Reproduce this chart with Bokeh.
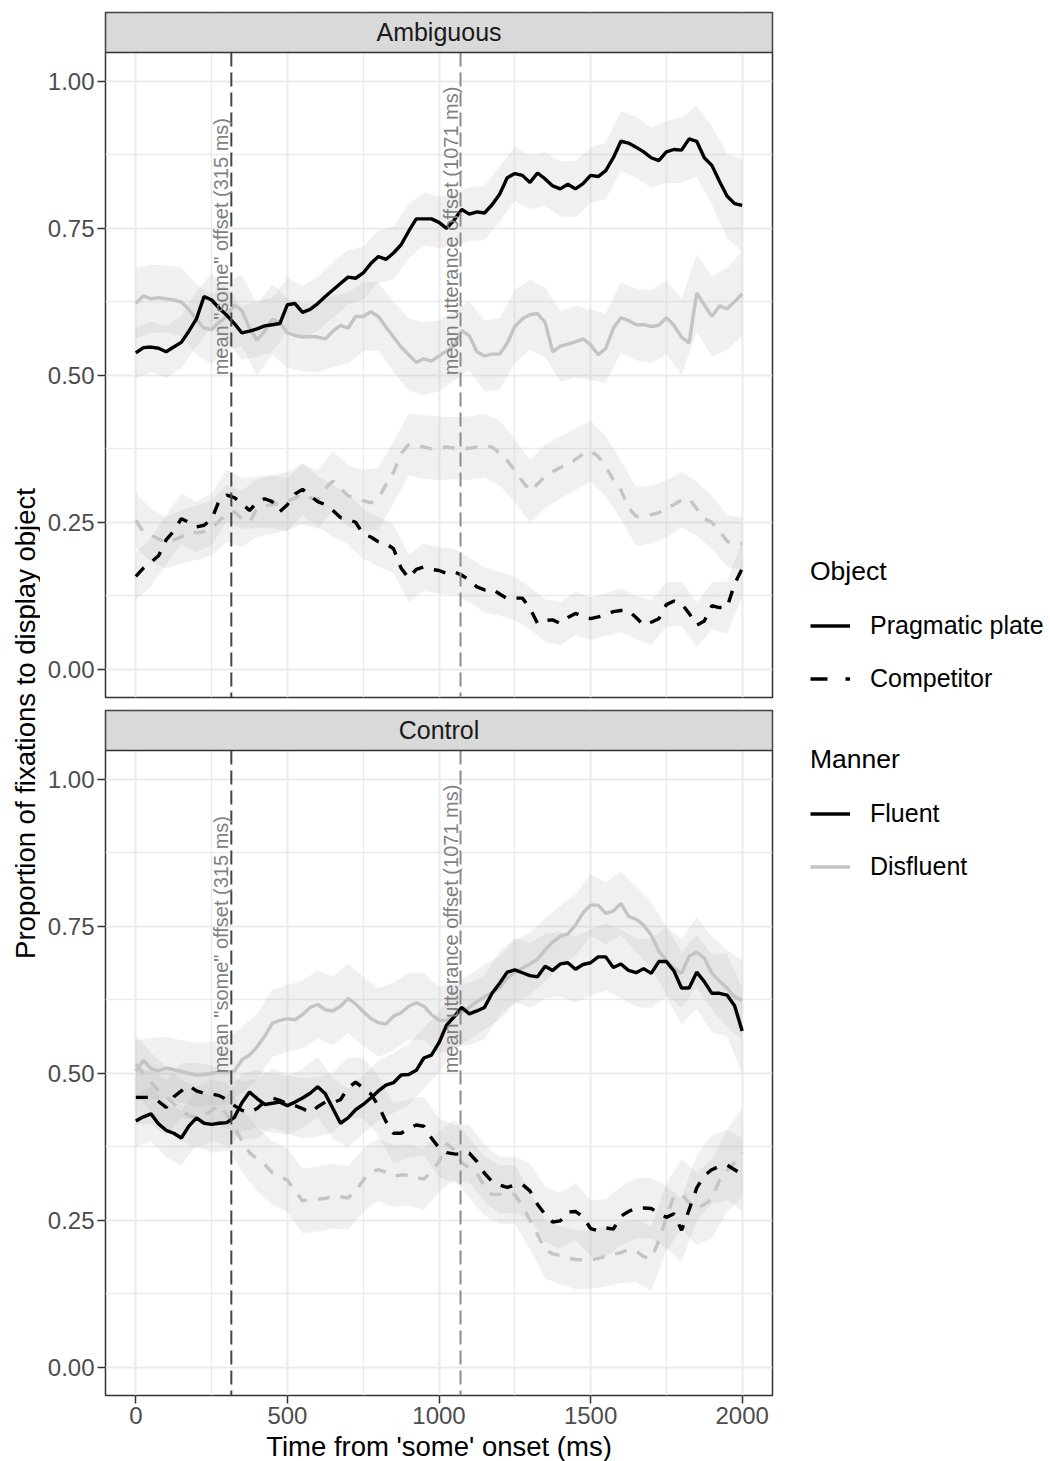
import math
from bokeh.plotting import figure
from bokeh.models import (Range1d, FixedTicker, BoxAnnotation, Label, Span,
                          Legend, LegendItem, NumeralTickFormatter)
from bokeh.layouts import row, column
from bokeh.embed import file_html
from bokeh.resources import INLINE

# ---------------- data ----------------
time_ms = list(range(0, 2001, 25))
ribbon_time_ms = time_ms[::2]

# Ambiguous
amb_prag_fluent = [0.538, 0.547, 0.548, 0.546, 0.540, 0.548, 0.556, 0.575, 0.596, 0.634,
                   0.628, 0.614, 0.602, 0.588, 0.572, 0.575, 0.579, 0.584, 0.586, 0.588,
                   0.620, 0.622, 0.607, 0.612, 0.622, 0.634, 0.645, 0.656, 0.667, 0.665,
                   0.674, 0.690, 0.702, 0.697, 0.708, 0.722, 0.745, 0.766, 0.766, 0.766,
                   0.760, 0.750, 0.764, 0.782, 0.774, 0.778, 0.776, 0.790, 0.808, 0.836,
                   0.843, 0.840, 0.828, 0.844, 0.834, 0.822, 0.817, 0.825, 0.817, 0.826,
                   0.840, 0.838, 0.848, 0.870, 0.898, 0.895, 0.888, 0.880, 0.870, 0.865,
                   0.880, 0.884, 0.883, 0.902, 0.898, 0.870, 0.857, 0.830, 0.805, 0.792,
                   0.789]
amb_prag_disfluent = [0.622, 0.635, 0.630, 0.632, 0.630, 0.628, 0.625, 0.612, 0.595, 0.580,
                      0.578, 0.590, 0.600, 0.620, 0.610, 0.580, 0.560, 0.575, 0.595, 0.590,
                      0.572, 0.568, 0.565, 0.566, 0.565, 0.562, 0.575, 0.585, 0.580, 0.600,
                      0.600, 0.608, 0.600, 0.582, 0.565, 0.548, 0.535, 0.522, 0.528, 0.524,
                      0.533, 0.541, 0.550, 0.576, 0.567, 0.540, 0.533, 0.536, 0.536, 0.555,
                      0.583, 0.596, 0.603, 0.605, 0.590, 0.540, 0.549, 0.553, 0.557, 0.562,
                      0.552, 0.535, 0.546, 0.580, 0.598, 0.593, 0.586, 0.586, 0.583, 0.585,
                      0.598, 0.585, 0.565, 0.555, 0.640, 0.620, 0.600, 0.618, 0.613, 0.625,
                      0.639]
amb_comp_fluent = [0.158, 0.172, 0.182, 0.193, 0.220, 0.235, 0.256, 0.250, 0.242, 0.245,
                   0.255, 0.287, 0.296, 0.292, 0.282, 0.270, 0.284, 0.290, 0.285, 0.268,
                   0.280, 0.298, 0.306, 0.295, 0.285, 0.280, 0.270, 0.258, 0.255, 0.250,
                   0.230, 0.225, 0.217, 0.214, 0.205, 0.172, 0.155, 0.170, 0.174, 0.170,
                   0.168, 0.163, 0.166, 0.160, 0.152, 0.140, 0.135, 0.137, 0.128, 0.120,
                   0.121, 0.121, 0.104, 0.078, 0.083, 0.084, 0.078, 0.088, 0.095, 0.090,
                   0.086, 0.089, 0.093, 0.098, 0.100, 0.100, 0.088, 0.075, 0.080, 0.086,
                   0.110, 0.116, 0.112, 0.095, 0.075, 0.082, 0.108, 0.105, 0.105, 0.145,
                   0.171]
amb_comp_disfluent = [0.253, 0.234, 0.228, 0.222, 0.215, 0.220, 0.225, 0.234, 0.232, 0.234,
                      0.240, 0.252, 0.265, 0.268, 0.256, 0.250, 0.274, 0.278, 0.280, 0.282,
                      0.286, 0.291, 0.298, 0.292, 0.288, 0.308, 0.320, 0.308, 0.295, 0.292,
                      0.287, 0.283, 0.290, 0.314, 0.335, 0.367, 0.382, 0.382, 0.378, 0.375,
                      0.376, 0.378, 0.376, 0.375, 0.376, 0.378, 0.380, 0.378, 0.368, 0.355,
                      0.338, 0.320, 0.303, 0.315, 0.328, 0.336, 0.343, 0.348, 0.357, 0.366,
                      0.371, 0.362, 0.345, 0.322, 0.305, 0.275, 0.260, 0.261, 0.263, 0.266,
                      0.273, 0.280, 0.288, 0.290, 0.273, 0.256, 0.250, 0.235, 0.218, 0.212,
                      0.214]

# Control
ctl_prag_fluent = [0.419, 0.426, 0.431, 0.414, 0.403, 0.398, 0.390, 0.410, 0.424, 0.415,
                   0.413, 0.415, 0.416, 0.425, 0.450, 0.468, 0.457, 0.447, 0.449, 0.451,
                   0.445, 0.451, 0.458, 0.466, 0.477, 0.465, 0.440, 0.415, 0.424, 0.438,
                   0.447, 0.458, 0.470, 0.480, 0.484, 0.497, 0.498, 0.505, 0.526, 0.531,
                   0.552, 0.582, 0.596, 0.612, 0.601, 0.606, 0.612, 0.636, 0.653, 0.672,
                   0.676, 0.671, 0.666, 0.664, 0.682, 0.675, 0.686, 0.688, 0.677, 0.685,
                   0.688, 0.698, 0.698, 0.680, 0.686, 0.675, 0.671, 0.678, 0.670, 0.690,
                   0.690, 0.674, 0.645, 0.645, 0.672, 0.656, 0.636, 0.636, 0.633, 0.615,
                   0.572]
ctl_prag_disfluent = [0.504, 0.522, 0.508, 0.504, 0.509, 0.506, 0.503, 0.500, 0.497, 0.498,
                      0.500, 0.502, 0.502, 0.504, 0.523, 0.531, 0.545, 0.563, 0.585, 0.590,
                      0.593, 0.591, 0.600, 0.612, 0.617, 0.608, 0.606, 0.614, 0.627, 0.618,
                      0.605, 0.593, 0.586, 0.584, 0.597, 0.603, 0.614, 0.620, 0.614, 0.600,
                      0.590, 0.590, 0.598, 0.604, 0.612, 0.622, 0.630, 0.637, 0.645, 0.662,
                      0.672, 0.679, 0.686, 0.694, 0.710, 0.723, 0.733, 0.737, 0.752, 0.773,
                      0.786, 0.786, 0.772, 0.776, 0.789, 0.767, 0.762, 0.752, 0.735, 0.708,
                      0.692, 0.678, 0.670, 0.699, 0.706, 0.696, 0.670, 0.657, 0.645, 0.630,
                      0.624]
ctl_comp_fluent = [0.459, 0.459, 0.459, 0.452, 0.442, 0.460, 0.470, 0.479, 0.470, 0.466,
                   0.465, 0.462, 0.455, 0.445, 0.437, 0.434, 0.440, 0.452, 0.458, 0.454,
                   0.448, 0.445, 0.440, 0.433, 0.443, 0.451, 0.450, 0.455, 0.475, 0.485,
                   0.475, 0.465, 0.445, 0.418, 0.398, 0.398, 0.406, 0.412, 0.410, 0.390,
                   0.373, 0.365, 0.363, 0.362, 0.364, 0.350, 0.330, 0.316, 0.310, 0.306,
                   0.310, 0.311, 0.300, 0.277, 0.260, 0.247, 0.249, 0.264, 0.265, 0.256,
                   0.236, 0.232, 0.237, 0.235, 0.257, 0.265, 0.271, 0.271, 0.270, 0.262,
                   0.255, 0.261, 0.233, 0.268, 0.305, 0.326, 0.336, 0.342, 0.344, 0.336,
                   0.328]
ctl_comp_disfluent = [0.515, 0.500, 0.485, 0.470, 0.460, 0.448, 0.437, 0.428, 0.425, 0.428,
                      0.437, 0.446, 0.430, 0.408, 0.385, 0.365, 0.354, 0.345, 0.331, 0.325,
                      0.318, 0.300, 0.283, 0.286, 0.286, 0.287, 0.291, 0.290, 0.288, 0.300,
                      0.318, 0.332, 0.336, 0.332, 0.325, 0.327, 0.327, 0.323, 0.320, 0.333,
                      0.350, 0.380, 0.370, 0.348, 0.339, 0.330, 0.308, 0.294, 0.294, 0.294,
                      0.294, 0.275, 0.250, 0.226, 0.200, 0.193, 0.190, 0.186, 0.183, 0.183,
                      0.183, 0.185, 0.189, 0.192, 0.195, 0.200, 0.198, 0.188, 0.185, 0.215,
                      0.255, 0.291, 0.294, 0.280, 0.270, 0.277, 0.286, 0.318, 0.334, 0.348,
                      0.365]

# ribbon half-widths, every 50 ms
amb_prag_fluent_se = [0.042, 0.043, 0.044, 0.045, 0.046, 0.046, 0.045, 0.046, 0.047, 0.046,
                      0.046, 0.045, 0.046, 0.047, 0.046, 0.045, 0.044, 0.045, 0.046, 0.045,
                      0.044, 0.045, 0.046, 0.046, 0.047, 0.046, 0.045, 0.046, 0.047, 0.048,
                      0.047, 0.048, 0.050, 0.052, 0.051, 0.053, 0.056, 0.060, 0.066, 0.072,
                      0.078]
amb_prag_disfluent_se = [0.060, 0.058, 0.057, 0.058, 0.060, 0.059, 0.058, 0.060, 0.061, 0.060,
                         0.059, 0.058, 0.060, 0.061, 0.060, 0.059, 0.058, 0.060, 0.061, 0.062,
                         0.060, 0.059, 0.058, 0.060, 0.061, 0.062, 0.060, 0.059, 0.060, 0.061,
                         0.060, 0.059, 0.060, 0.061, 0.062, 0.063, 0.064, 0.066, 0.068, 0.070,
                         0.072]
amb_comp_fluent_se = [0.040, 0.041, 0.042, 0.043, 0.043, 0.044, 0.044, 0.043, 0.044, 0.045,
                      0.045, 0.044, 0.043, 0.044, 0.043, 0.042, 0.042, 0.041, 0.040, 0.040,
                      0.040, 0.039, 0.038, 0.038, 0.037, 0.037, 0.036, 0.036, 0.037, 0.037,
                      0.036, 0.036, 0.037, 0.037, 0.038, 0.038, 0.037, 0.038, 0.040, 0.044,
                      0.048]
amb_comp_disfluent_se = [0.046, 0.045, 0.044, 0.045, 0.046, 0.047, 0.048, 0.048, 0.049, 0.050,
                         0.050, 0.051, 0.050, 0.051, 0.052, 0.052, 0.053, 0.052, 0.053, 0.054,
                         0.054, 0.053, 0.054, 0.054, 0.055, 0.054, 0.053, 0.054, 0.053, 0.052,
                         0.052, 0.051, 0.050, 0.050, 0.049, 0.048, 0.047, 0.046, 0.045, 0.044,
                         0.044]
ctl_prag_fluent_se = [0.045, 0.046, 0.046, 0.047, 0.047, 0.048, 0.048, 0.049, 0.049, 0.050,
                      0.050, 0.050, 0.051, 0.051, 0.050, 0.050, 0.051, 0.051, 0.052, 0.052,
                      0.052, 0.053, 0.053, 0.054, 0.054, 0.054, 0.055, 0.055, 0.055, 0.056,
                      0.056, 0.057, 0.058, 0.058, 0.059, 0.060, 0.061, 0.063, 0.066, 0.070,
                      0.074]
ctl_prag_disfluent_se = [0.052, 0.052, 0.053, 0.053, 0.054, 0.054, 0.055, 0.056, 0.056, 0.057,
                         0.057, 0.058, 0.058, 0.058, 0.059, 0.059, 0.058, 0.058, 0.057, 0.057,
                         0.056, 0.056, 0.055, 0.055, 0.054, 0.054, 0.053, 0.053, 0.052, 0.052,
                         0.052, 0.053, 0.054, 0.055, 0.056, 0.057, 0.058, 0.060, 0.062, 0.065,
                         0.068]
ctl_comp_fluent_se = [0.046, 0.046, 0.047, 0.047, 0.048, 0.048, 0.049, 0.049, 0.050, 0.050,
                      0.050, 0.051, 0.051, 0.051, 0.052, 0.052, 0.051, 0.051, 0.050, 0.050,
                      0.050, 0.049, 0.049, 0.048, 0.048, 0.048, 0.047, 0.047, 0.047, 0.048,
                      0.048, 0.049, 0.050, 0.051, 0.052, 0.053, 0.054, 0.056, 0.058, 0.060,
                      0.062]
ctl_comp_disfluent_se = [0.050, 0.050, 0.051, 0.051, 0.052, 0.052, 0.053, 0.053, 0.054, 0.054,
                         0.054, 0.055, 0.055, 0.055, 0.054, 0.054, 0.053, 0.053, 0.052, 0.052,
                         0.052, 0.051, 0.051, 0.050, 0.050, 0.050, 0.049, 0.049, 0.049, 0.050,
                         0.050, 0.051, 0.052, 0.053, 0.055, 0.057, 0.059, 0.062, 0.066, 0.070,
                         0.075]

panels = ["Ambiguous", "Control"]
object_labels = ["Pragmatic plate", "Competitor"]
manner_labels = ["Fluent", "Disfluent"]
x_major = [0, 500, 1000, 1500, 2000]
x_minor = [250, 750, 1250, 1750]
y_major = [0, 0.25, 0.5, 0.75, 1.0]
y_minor = [0.125, 0.375, 0.625, 0.875]
offsets = [(315, 'mean "some" offset (315 ms)'), (1071, "mean utterance offset (1071 ms)")]

for arr in [amb_prag_fluent, amb_prag_disfluent, amb_comp_fluent, amb_comp_disfluent,
            ctl_prag_fluent, ctl_prag_disfluent, ctl_comp_fluent, ctl_comp_disfluent]:
    assert len(arr) == len(time_ms), len(arr)

# ---------------- style ----------------
FONT = "Liberation Sans"
FLUENT = "#000000"
DISFLUENT = "#C4C4C4"
RIBBON = "#B3B3B3"
BORDER = "#333333"
GRID = "#EBEBEB"
DASH = "12 11"
LW = 3.4

def make_panel(name, series, show_x, top_border, bottom_border):
    p = figure(frame_width=667, frame_height=685,
               x_range=Range1d(-100, 2100), y_range=Range1d(-0.048, 1.117),
               output_backend="svg", toolbar_location=None,
               min_border_left=65, min_border_right=8,
               min_border_top=top_border, min_border_bottom=bottom_border)
    p.background_fill_color = "white"
    p.border_fill_color = "white"
    p.outline_line_color = BORDER
    p.outline_line_width = 1.5

    p.xgrid.ticker = FixedTicker(ticks=x_major, minor_ticks=x_minor)
    p.ygrid.ticker = FixedTicker(ticks=y_major, minor_ticks=y_minor)
    for g in (p.xgrid, p.ygrid):
        g.grid_line_color = GRID
        g.grid_line_width = 2
        g.minor_grid_line_color = GRID
        g.minor_grid_line_width = 1.3

    p.yaxis.ticker = FixedTicker(ticks=y_major)
    p.yaxis.formatter = NumeralTickFormatter(format="0.00")
    p.xaxis.ticker = FixedTicker(ticks=x_major)
    for ax in (p.xaxis, p.yaxis):
        ax.axis_line_color = None
        ax.major_tick_line_color = BORDER
        ax.major_tick_line_width = 1.5
        ax.major_tick_out = 8
        ax.major_tick_in = 0
        ax.minor_tick_line_color = None
        ax.major_label_text_font = FONT
        ax.major_label_text_font_size = "24px"
        ax.major_label_text_color = "#4D4D4D"
        ax.major_label_standoff = 3
    if show_x:
        p.xaxis.axis_label = "Time from 'some' onset (ms)"
        p.xaxis.axis_label_text_font = FONT
        p.xaxis.axis_label_text_font_size = "27.5px"
        p.xaxis.axis_label_text_font_style = "normal"
        p.xaxis.axis_label_text_color = "#000000"
        p.xaxis.axis_label_standoff = 4
    else:
        p.xaxis.visible = False

    # ribbons first, then lines (disfluent under fluent)
    for mean, se, color, dash in series:
        sub = mean[::2]
        lo = [m - s for m, s in zip(sub, se)]
        hi = [m + s for m, s in zip(sub, se)]
        p.varea(x=ribbon_time_ms, y1=lo, y2=hi, fill_color=RIBBON, fill_alpha=0.2)
    for mean, se, color, dash in series:
        p.line(time_ms, mean, line_color=color, line_width=LW, line_dash=dash)

    span_colors = ["#444444", "#8C8C8C"]
    for (loc, txt), col in zip(offsets, span_colors):
        p.add_layout(Span(location=loc, dimension="height", line_color=col,
                          line_width=2, line_dash="14 6"))
        p.add_layout(Label(x=loc, y=0.5, text=txt, angle=math.pi / 2,
                           text_align="left", text_baseline="bottom",
                           x_offset=1, text_color="#7F7F7F",
                           text_font_size="20px", text_font=FONT))

    # facet strip
    p.add_layout(BoxAnnotation(bottom=1.049, fill_color="#D9D9D9", fill_alpha=1,
                               line_color=BORDER, line_alpha=1, line_width=1.5))
    p.add_layout(Label(x=1000, y=1.083, text=name, text_align="center",
                       text_baseline="middle", text_font_size="25px",
                       text_font=FONT, text_color="#1A1A1A"))
    return p

amb_series = [
    (amb_prag_disfluent, amb_prag_disfluent_se, DISFLUENT, "solid"),
    (amb_comp_disfluent, amb_comp_disfluent_se, DISFLUENT, DASH),
    (amb_prag_fluent, amb_prag_fluent_se, FLUENT, "solid"),
    (amb_comp_fluent, amb_comp_fluent_se, FLUENT, DASH),
]
ctl_series = [
    (ctl_prag_disfluent, ctl_prag_disfluent_se, DISFLUENT, "solid"),
    (ctl_comp_disfluent, ctl_comp_disfluent_se, DISFLUENT, DASH),
    (ctl_prag_fluent, ctl_prag_fluent_se, FLUENT, "solid"),
    (ctl_comp_fluent, ctl_comp_fluent_se, FLUENT, DASH),
]

top = make_panel(panels[0], amb_series, False, 12, 6)
bot = make_panel(panels[1], ctl_series, True, 7, 40)

H = 1461
# shared y-axis title
yt = figure(width=40, height=H, x_range=Range1d(0, 40), y_range=Range1d(0, H),
            x_axis_type=None, y_axis_type=None, output_backend="svg",
            toolbar_location=None, min_border=0)
yt.outline_line_color = None
yt.grid.visible = False
yt.add_layout(Label(x=25, y=H - 723, text="Proportion of fixations to display object",
                    angle=math.pi / 2, text_align="center", text_baseline="middle",
                    text_font_size="27.5px", text_font=FONT, text_color="#000000"))

# legends
lf = figure(width=270, height=H, x_range=Range1d(0, 1), y_range=Range1d(0, 1),
            x_axis_type=None, y_axis_type=None, output_backend="svg",
            toolbar_location=None, min_border=0)
lf.outline_line_color = None
lf.grid.visible = False
nan = [float("nan")]
r_prag = lf.line(nan, nan, line_color=FLUENT, line_width=LW)
r_comp = lf.line(nan, nan, line_color=FLUENT, line_width=LW, line_dash="17 18")
r_flu = lf.line(nan, nan, line_color=FLUENT, line_width=LW)
r_dis = lf.line(nan, nan, line_color=DISFLUENT, line_width=LW)

def style_legend(leg):
    leg.title_text_font = FONT
    leg.title_text_font_size = "26.5px"
    leg.title_text_font_style = "normal"
    leg.title_text_color = "#000000"
    leg.label_text_font = FONT
    leg.label_text_font_size = "25px"
    leg.label_text_color = "#000000"
    leg.background_fill_alpha = 0
    leg.border_line_color = None
    leg.padding = 0
    leg.margin = 0
    leg.spacing = 0
    leg.glyph_width = 40
    leg.glyph_height = 53
    leg.label_height = 53
    leg.label_standoff = 20
    leg.title_standoff = 12

leg_obj = Legend(title="Object", items=[LegendItem(label=object_labels[0], renderers=[r_prag]),
                                        LegendItem(label=object_labels[1], renderers=[r_comp])],
                 location=(30, H - 705))
leg_man = Legend(title="Manner", items=[LegendItem(label=manner_labels[0], renderers=[r_flu]),
                                        LegendItem(label=manner_labels[1], renderers=[r_dis])],
                 location=(30, H - 893))
style_legend(leg_obj)
style_legend(leg_man)
lf.add_layout(leg_obj)
lf.add_layout(leg_man)

layout = row(yt, column(top, bot, spacing=0), lf, spacing=0)

open("out.html", "w").write(file_html(layout, INLINE))
